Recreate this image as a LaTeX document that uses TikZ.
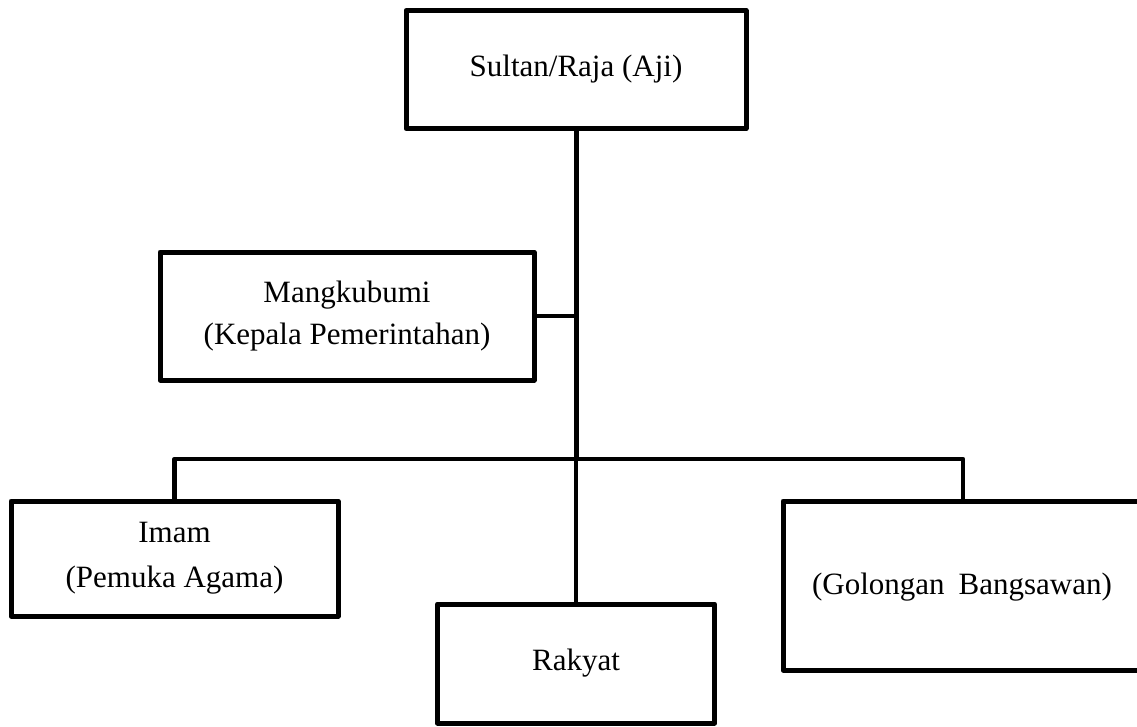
\documentclass[tikz,border=0pt]{standalone}
\usepackage{fontspec}
\setmainfont{Liberation Serif}
\begin{document}
\begin{tikzpicture}[x=1pt,y=-1pt,
  box/.style={draw,line width=5pt,line join=round,rectangle,inner sep=0pt,outer sep=0pt,align=center,font=\fontsize{31}{42}\selectfont},
  conn/.style={line width=4.4pt,line join=round},
  trunk/.style={line width=5pt},
  thinconn/.style={line width=3.8pt}]
\useasboundingbox (0,0) rectangle (1137,726);
\node[box,minimum width=340pt,minimum height=118pt] (top) at (576,69.5) {Sultan/Raja (Aji)};
\node[box,minimum width=374pt,minimum height=128pt] (mang) at (347,316) {Mangkubumi\\(Kepala Pemerintahan)};
\node[box,minimum width=327pt,minimum height=115pt,font=\fontsize{31}{45}\selectfont] (imam) at (174.5,558.5) {Imam\\(Pemuka Agama)};
\node[box,minimum width=277pt,minimum height=119pt] (rakyat) at (576,663.5) {Rakyat};
\node[box,minimum width=364pt,minimum height=169pt] (gol) at (965,585.5) {};
\node[font=\fontsize{31}{42}\selectfont,inner sep=0pt] (goltext) at (962,587) {(Golongan\hspace{14pt}Bangsawan)};
\coordinate (bar) at (576,459);
\draw[trunk] (top.south) -- (bar);
\draw[thinconn] (bar) -- (rakyat.north);
\draw[line width=4pt] (mang.east) -- (mang.east -| bar);
\draw[conn] (imam.north) -- (imam.north |- bar) -- (963,459) -- (963,501);
\end{tikzpicture}
\end{document}
